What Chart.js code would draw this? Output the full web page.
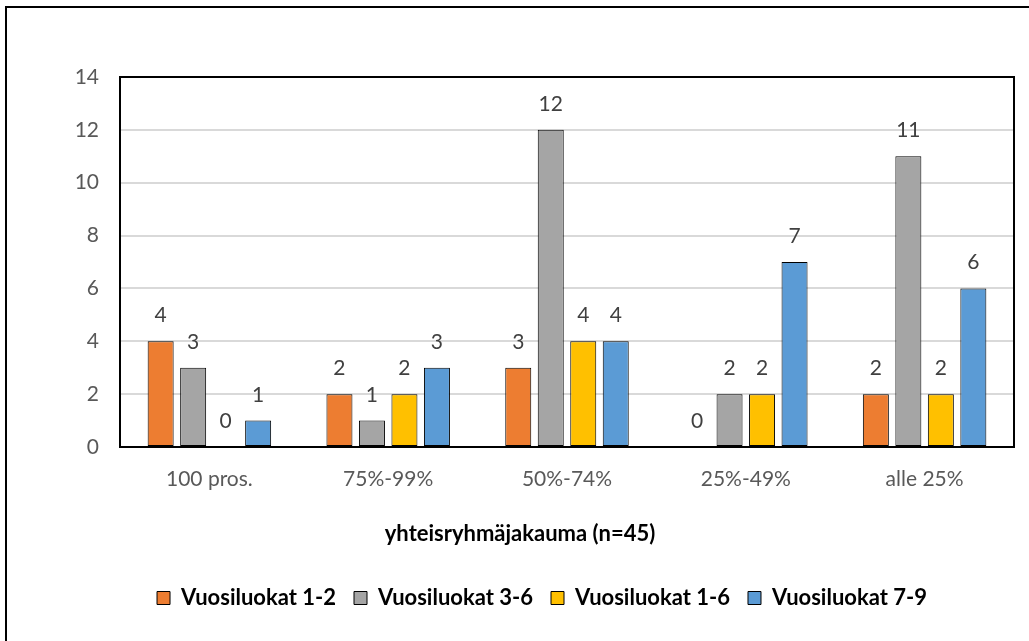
<!DOCTYPE html>
<html>
<head>
<meta charset="utf-8">
<script src="https://cdn.jsdelivr.net/npm/chart.js@4/dist/chart.umd.min.js"></script>
<style>
html,body{margin:0;padding:0;background:#fff;overflow:hidden;}
#wrap{position:relative;width:1029px;height:641px;}
#frame{position:absolute;left:5px;top:6px;width:1100px;height:700px;border-left:2px solid #000;border-top:2px solid #000;box-sizing:border-box;}
canvas{position:absolute;left:0;top:0;}
</style>
</head>
<body>
<div id="wrap">
<div id="frame"></div>
<canvas id="c" width="1029" height="641"></canvas>
</div>
<script>
const categories = ["100 pros.", "75%-99%", "50%-74%", "25%-49%", "alle 25%"];
const seriesNames = ["Vuosiluokat 1-2", "Vuosiluokat 3-6", "Vuosiluokat 1-6", "Vuosiluokat 7-9"];
const vl12 = [4, 2, 3, 0, 2];
const vl36 = [3, 1, 12, 2, 11];
const vl16 = [0, 2, 4, 2, 2];
const vl79 = [1, 3, 4, 7, 6];
const seriesColors = ["#ED7D31", "#A5A5A5", "#FFC000", "#5B9BD5"];
const yTicks = [0, 2, 4, 6, 8, 10, 12, 14];
const xTitle = "yhteisryhmäjakauma (n=45)";

const FONT = "Lato";
const seriesValues = [vl12, vl36, vl16, vl79];

const labelPlugin = {
  id: "valueLabels",
  afterDatasetsDraw(chart) {
    const ctx = chart.ctx;
    ctx.save();
    ctx.font = "21px " + FONT;
    ctx.fillStyle = "#404040";
    ctx.textAlign = "center";
    ctx.textBaseline = "alphabetic";
    chart.data.datasets.forEach((ds, i) => {
      const meta = chart.getDatasetMeta(i);
      meta.data.forEach((el, j) => {
        ctx.fillText(String(ds.data[j]), el.x, el.y - 19);
      });
    });
    ctx.restore();
  }
};

const boxPlugin = {
  id: "plotBox",
  afterLayout(chart) {
    const lg = chart.legend;
    if (lg) { lg.left -= 25; lg.right -= 25; }
  },
  afterDatasetsDraw(chart) {
    const a = chart.chartArea;
    const ctx = chart.ctx;
    ctx.save();
    ctx.strokeStyle = "#000";
    ctx.lineWidth = 2;
    ctx.strokeRect(a.left, a.top, a.right - a.left, a.bottom - a.top);
    ctx.restore();
  },
  afterDraw(chart) {
    const a = chart.chartArea;
    const ctx = chart.ctx;
    ctx.save();
    ctx.font = "bold 22px " + FONT;
    ctx.fillStyle = "#000";
    ctx.textAlign = "center";
    ctx.textBaseline = "middle";
    ctx.fillText(xTitle, (a.left + a.right) / 2 - 47, a.bottom + 87);
    ctx.restore();
  }
};

new Chart(document.getElementById("c"), {
  type: "bar",
  data: {
    labels: categories,
    datasets: seriesValues.map((vals, i) => ({
      label: seriesNames[i],
      data: vals,
      backgroundColor: seriesColors[i],
      borderColor: "#000",
      borderWidth: 1,
      borderSkipped: false,
      categoryPercentage: 0.727,
      barPercentage: 0.8
    }))
  },
  options: {
    responsive: false,
    animation: false,
    devicePixelRatio: 1,
    layout: { padding: { left: 0, right: 15, top: 77, bottom: 22 } },
    plugins: {
      tooltip: { enabled: false },
      legend: {
        position: "bottom",
        fullSize: false,
        labels: {
          boxWidth: 13,
          boxHeight: 13,
          padding: 18,
          color: "#000",
          font: { family: FONT, size: 22, weight: "bold" }
        }
      }
    },
    scales: {
      x: {
        grid: { display: false },
        border: { display: false },
        ticks: { color: "#595959", font: { family: FONT, size: 21 }, padding: 12 },
        title: { display: false },
        afterFit(scale) { scale.height = 122; }
      },
      y: {
        min: 0,
        max: 14,
        afterBuildTicks(scale) { scale.ticks = yTicks.map(v => ({ value: v })); },
        grid: { color: "#d9d9d9", lineWidth: 2, drawTicks: false },
        border: { display: false },
        ticks: { color: "#595959", font: { family: FONT, size: 21 }, padding: 21 },
        afterFit(scale) { scale.width = 120; }
      }
    }
  },
  plugins: [labelPlugin, boxPlugin]
});
</script>
</body>
</html>
